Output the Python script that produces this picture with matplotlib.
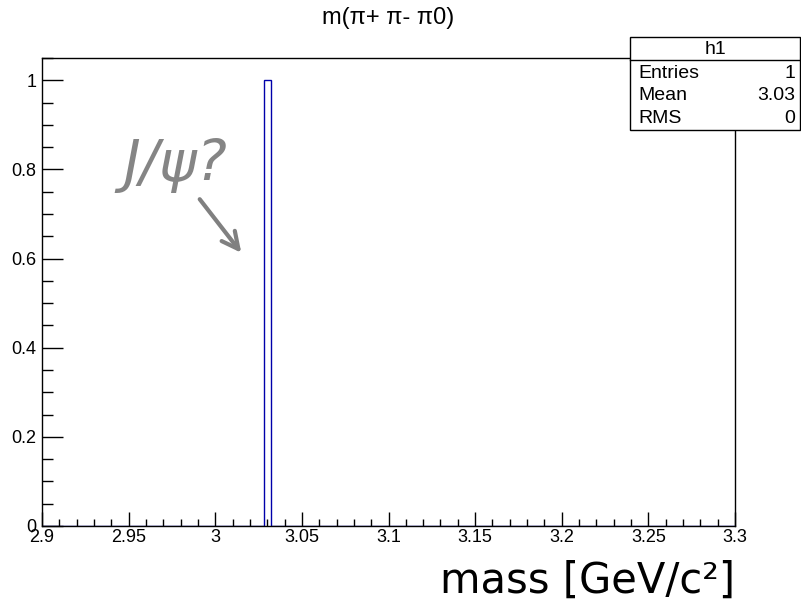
import numpy as np
import matplotlib
matplotlib.use("Agg")
import matplotlib.pyplot as plt
from matplotlib.ticker import MultipleLocator

# Data
bin_edges = np.linspace(2.9, 3.3, 101)
counts = np.zeros(100)
entry_mass = [3.03]
for m in entry_mass:
    idx = np.searchsorted(bin_edges, m, side="right") - 1
    counts[idx] += 1

x_ticks = [2.9, 2.95, 3.0, 3.05, 3.1, 3.15, 3.2, 3.25, 3.3]
x_ticklabels = ["2.9", "2.95", "3", "3.05", "3.1", "3.15", "3.2", "3.25", "3.3"]
y_ticks = [0, 0.2, 0.4, 0.6, 0.8, 1.0]
y_ticklabels = ["0", "0.2", "0.4", "0.6", "0.8", "1"]
stats_labels = ["Entries", "Mean", "RMS"]
stats_values = ["1", "3.03", "0"]
title = "m(\u03c0+ \u03c0- \u03c00)"
hist_name = "h1"

plt.rcParams['font.family'] = ['Liberation Sans', 'DejaVu Sans']

fig = plt.figure(figsize=(8.01, 6.02), dpi=100)
L, R, T, B = 42, 735, 58, 526
ax = fig.add_axes([L/801, 1-B/602, (R-L)/801, (B-T)/602])

ax.stairs(counts, bin_edges, color='#0000aa', lw=1.0, baseline=0)
ax.set_xlim(2.9, 3.3)
ax.set_ylim(0, 1.05)

ax.set_xticks(x_ticks)
ax.set_xticklabels(x_ticklabels)
ax.set_yticks(y_ticks)
ax.set_yticklabels(y_ticklabels)
ax.xaxis.set_minor_locator(MultipleLocator(0.01))
ax.yaxis.set_minor_locator(MultipleLocator(0.05))
ax.tick_params(axis='x', which='major', direction='in', length=10, width=1, labelsize=13, pad=2, top=False)
ax.tick_params(axis='x', which='minor', direction='in', length=5, width=1, top=False)
ax.tick_params(axis='y', which='major', direction='in', length=15, width=1, labelsize=13, pad=4, right=False)
ax.tick_params(axis='y', which='minor', direction='in', length=8, width=1, right=False)
for s in ax.spines.values():
    s.set_linewidth(1)
    s.set_color('black')

fig.text(388/801, 1-18/602, title, ha='center', va='center', fontsize=17)

# Stats box
bx0, bx1 = 630/801, 800/801
by0, by1 = 1-130/602, 1-37/602
hy = 1-60/602
fig.add_artist(plt.Rectangle((bx0, by0), bx1-bx0, by1-by0, transform=fig.transFigure,
                             facecolor='white', edgecolor='black', lw=1, zorder=5))
fig.add_artist(plt.Line2D([bx0, bx1], [hy, hy], transform=fig.transFigure, color='black', lw=1, zorder=6))
fig.text((bx0+bx1)/2, 1-49/602, hist_name, ha='center', va='center', fontsize=14, zorder=7)
rows_y = [73, 96, 118]
for lab, val, yy in zip(stats_labels, stats_values, rows_y):
    fig.text(638/801, 1-yy/602, lab, ha='left', va='center', fontsize=14, zorder=7)
    fig.text(795/801, 1-yy/602, val, ha='right', va='center', fontsize=14, zorder=7)

# Annotation
fig.text(123/801, 1-166/602, "J/\u03c8?", ha='left', va='center', fontsize=41,
         style='italic', color='#858585', family='DejaVu Sans')
fig.add_artist(matplotlib.patches.FancyArrowPatch((198/801, 1-197/602), (243/801, 1-255/602),
               transform=fig.transFigure, arrowstyle='->,head_length=12,head_width=6',
               color='#808080', lw=3, mutation_scale=1))

# x label
fig.text(735/801, 1-593/602, "mass [GeV/c\u00b2]", ha='right', va='baseline', fontsize=30, family='DejaVu Sans')

fig.savefig("out.png", dpi=100)
